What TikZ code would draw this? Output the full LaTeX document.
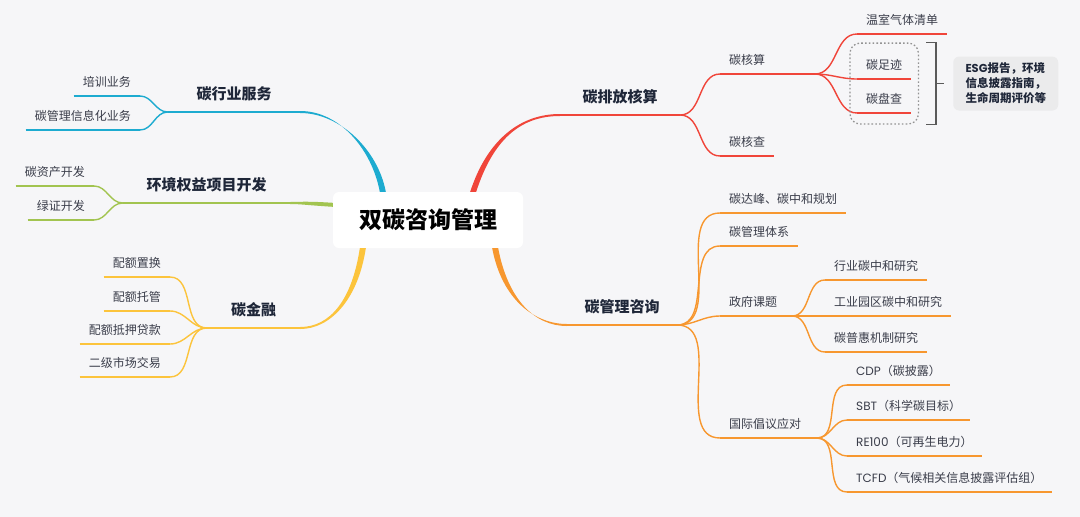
\documentclass[tikz,border=0pt]{standalone}
\usepackage{fontspec}
\setmainfont{Noto Sans CJK SC}
\newfontfamily\latinfont{Poppins}
\usetikzlibrary{calc,fit}

\definecolor{bgcol}{HTML}{F6F6F8}
\definecolor{cred}{HTML}{F0453A}
\definecolor{corange}{HTML}{F7972F}
\definecolor{cyellow}{HTML}{FCC43C}
\definecolor{cgreen}{HTML}{A2C450}
\definecolor{cblue}{HTML}{1DABD0}
\definecolor{ctext}{HTML}{3A3D4A}
\definecolor{ctopic}{HTML}{1E2638}
\definecolor{cbox}{HTML}{EBEBEC}
\definecolor{cbracket}{HTML}{5A5A5A}

% tapered branch: colour, start, control 1, control 2, end, half width at start, half width at end
\newcommand{\branchtaper}[7]{%
  \fill[#1] ($#2+#6$) .. controls ($#3+#6$) and ($#4+#7$) .. ($#5+#7$)
    -- ($#5-#7$) .. controls ($#4-#7$) and ($#3-#6$) .. ($#2-#6$) -- cycle;}

\begin{document}
\begin{tikzpicture}[x=1pt, y=-1pt,
  root/.style={fill=white, rounded corners=6pt, minimum width=190pt, minimum height=56pt,
    font=\fontsize{23}{27}\selectfont\bfseries, text=black},
  topic/.style={font=\fontsize{15}{18}\selectfont\bfseries, text=ctopic, text height=11pt,
    text depth=3pt, inner ysep=9pt, inner xsep=0pt, anchor=south},
  leaf/.style={font=\fontsize{12}{14}\selectfont, text=ctext, text height=9pt, text depth=2.5pt,
    inner ysep=6.5pt, inner xsep=9pt},
  rleaf/.style={leaf, anchor=south west},
  lleaf/.style={leaf, anchor=south east},
  twig/.style={line width=1.4pt},
  bar/.style={line width=2pt},
  dotbox/.style={draw=gray!85, dash pattern=on 1.6pt off 2.2pt, line width=1.3pt, rounded corners=10pt},
  note/.style={fill=cbox, rounded corners=6pt, minimum width=105pt, minimum height=54pt, align=left,
    font=\fontsize{11.5}{15}\selectfont\bfseries, text=ctopic}]

  \useasboundingbox (0,0) rectangle (1080,517);
  \fill[bgcol] (0,0) rectangle (1080,517);

  % ==========================================
  % Centre et thèmes principaux
  % ==========================================
  \node[root] (root) at (428,220) {双碳咨询管理};

  \node[topic, minimum width=120pt] (pf) at (620,115) {碳排放核算};
  \node[topic, minimum width=110pt] (gl) at (622,325) {碳管理咨询};
  \node[topic, minimum width=132pt] (hy) at (234,112) {碳行业服务};
  \node[topic, minimum width=167pt] (hj) at (206.5,203) {环境权益项目开发};
  \node[topic, minimum width=93pt] (jr) at (253.5,328) {碳金融};

  \coordinate (r0) at ($(root.north east)+(-50,0)$);
  \coordinate (o0) at ($(root.south east)+(-28,0)$);
  \coordinate (b0) at ($(root.north west)+(50,0)$);
  \coordinate (g0) at ($(root.north west)+(0,13)$);
  \coordinate (y0) at ($(root.south west)+(30,0)$);

  \branchtaper{cred}{(r0)}{(490,140)}{(520,115)}{(pf.south west)}{(3,0)}{(0,1)}
  \branchtaper{corange}{(o0)}{(505,300)}{(535,325)}{(gl.south west)}{(3,0)}{(0,1)}
  \branchtaper{cblue}{(b0)}{(375,150)}{(340,112)}{(hy.south east)}{(3,0)}{(0,1)}
  \branchtaper{cgreen}{(g0)}{(305,203)}{(300,203)}{(hj.south east)}{(0,2)}{(0,1)}
  \branchtaper{cyellow}{(y0)}{(355,300)}{(330,328)}{(jr.south east)}{(3,0)}{(0,1)}

  \draw[cred, bar] (pf.south west) -- (pf.south east);
  \draw[corange, bar] (gl.south west) -- (gl.south east);
  \draw[cblue, bar] (hy.south west) -- (hy.south east);
  \draw[cgreen, bar] (hj.south west) -- (hj.south east);
  \draw[cyellow, bar] (jr.south west) -- (jr.south east);

  % ==========================================
  % Branche rouge : 碳排放核算
  % ==========================================
  \node[rleaf] (hs) at (720,74) {碳核算};
  \coordinate (hsf) at ($(hs.south west)+(95,0)$);
  \node[rleaf] (hc) at (720,156) {碳核查};
  \node[rleaf] (wq) at (857,34) {温室气体清单};
  \node[rleaf] (zj) at (857,79) {碳足迹};
  \node[rleaf] (pc) at (857,113) {碳盘查};

  \draw[cred, twig] (hs.south west) -- (hsf);
  \foreach \n in {hc,wq,zj,pc}
    \draw[cred, twig] (\n.south west) -- (\n.south east);
  \foreach \n in {hs,hc}
    \draw[cred, twig] (pf.south east) to[out=0,in=180] (\n.south west);
  \foreach \n in {wq,zj,pc}
    \draw[cred, twig] (hsf) to[out=0,in=180] (\n.south west);

  % groupe en pointillés, accolade et remarque
  \node[dotbox, fit=(zj)(pc), inner xsep=7pt, inner ysep=11pt] (grp) {};
  \coordinate (bt) at ($(grp.north east)+(7,0)$);
  \coordinate (bb) at ($(grp.south east)+(7,0)$);
  \coordinate (bm) at ($(bt)!0.5!(bb)+(10,0)$);
  \draw[cbracket, line width=1.5pt] (bt) -- ++(10,0) -- ($(bb)+(10,0)$) -- (bb);
  \draw[cbracket, line width=1.5pt] (bm) -- ++(8,0);
  \node[note, anchor=west] (esg) at ($(bm)+(17,0)$) {{\latinfont ESG}报告，环境\\信息披露指南，\\生命周期评价等};

  % ==========================================
  % Branche orange : 碳管理咨询
  % ==========================================
  \node[rleaf] (tf) at (720,213) {碳达峰、碳中和规划};
  \node[rleaf] (tx) at (720,246) {碳管理体系};
  \node[rleaf] (zf) at (720,316) {政府课题};
  \coordinate (zff) at ($(zf.south west)+(72,0)$);
  \node[rleaf] (gj) at (720,438) {国际倡议应对};
  \coordinate (gjf) at ($(gj.south west)+(97,0)$);

  \node[rleaf] (yz) at (825,280) {行业碳中和研究};
  \node[rleaf] (yq) at (825,316) {工业园区碳中和研究};
  \node[rleaf] (ph) at (825,352) {碳普惠机制研究};

  \node[rleaf] (cdp) at (847,385) {{\latinfont CDP}（碳披露）};
  \node[rleaf] (sbt) at (847,420) {{\latinfont SBT}（科学碳目标）};
  \node[rleaf] (re) at (847,456) {{\latinfont RE100}（可再生电力）};
  \node[rleaf] (tcfd) at (847,492) {{\latinfont TCFD}（气候相关信息披露评估组）};

  \draw[corange, twig] (zf.south west) -- (zff);
  \draw[corange, twig] (gj.south west) -- (gjf);
  \foreach \n in {tf,tx,yz,yq,ph,cdp,sbt,re,tcfd}
    \draw[corange, twig] (\n.south west) -- (\n.south east);
  \foreach \n in {tf,tx,zf,gj}
    \draw[corange, twig] (gl.south east) to[out=0,in=180] (\n.south west);
  \foreach \n in {yz,yq,ph}
    \draw[corange, twig] (zff) to[out=0,in=180] (\n.south west);
  \foreach \n in {cdp,sbt,re,tcfd}
    \draw[corange, twig] (gjf) to[out=0,in=180] (\n.south west);

  % ==========================================
  % Branches de gauche
  % ==========================================
  \node[lleaf] (px) at (140,96) {培训业务};
  \node[lleaf] (xx) at (140,130) {碳管理信息化业务};
  \node[lleaf] (zc) at (94,186) {碳资产开发};
  \node[lleaf] (lz) at (94,220) {绿证开发};
  \node[lleaf] (zh) at (170,277) {配额置换};
  \node[lleaf] (tg) at (170,311) {配额托管};
  \node[lleaf] (dk) at (170,344) {配额抵押贷款};
  \node[lleaf] (ej) at (170,377) {二级市场交易};

  \foreach \n in {px,xx} {
    \draw[cblue, twig] (\n.south west) -- (\n.south east);
    \draw[cblue, twig] (hy.south west) to[out=180,in=0] (\n.south east);
  }
  \foreach \n in {zc,lz} {
    \draw[cgreen, twig] (\n.south west) -- (\n.south east);
    \draw[cgreen, twig] (hj.south west) to[out=180,in=0] (\n.south east);
  }
  \foreach \n in {zh,tg,dk,ej} {
    \draw[cyellow, twig] (\n.south west) -- (\n.south east);
    \draw[cyellow, twig] (jr.south west) to[out=180,in=0] (\n.south east);
  }

\end{tikzpicture}
\end{document}
